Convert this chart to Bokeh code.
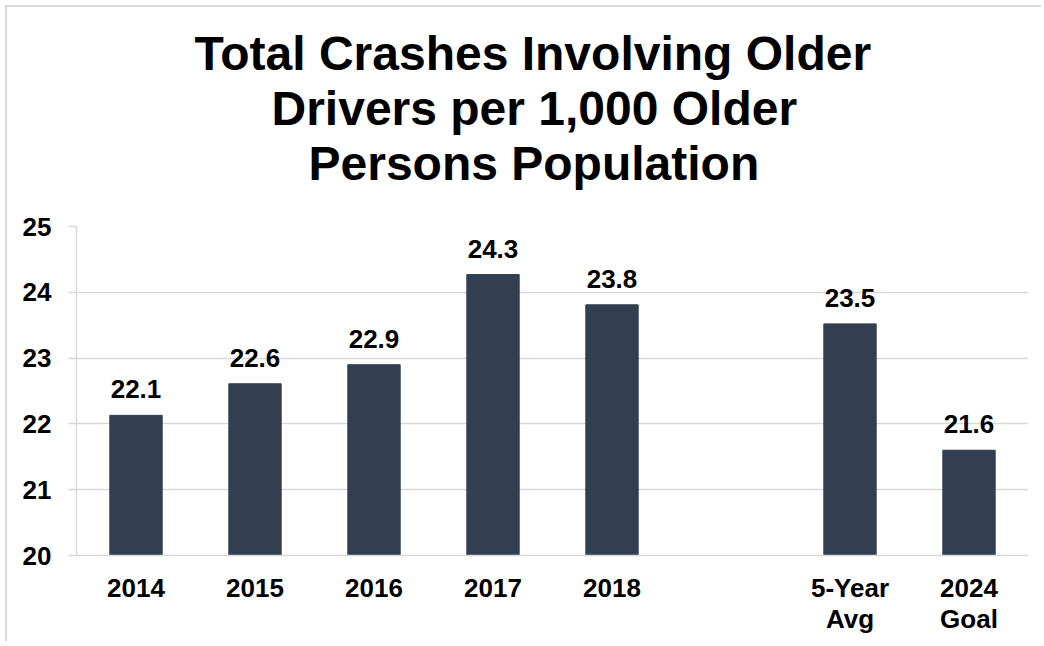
from bokeh.plotting import figure
from bokeh.models import FactorRange, Range1d, FixedTicker, ColumnDataSource, LabelSet, Title
from bokeh.core.properties import value
from bokeh.embed import file_html
from bokeh.resources import INLINE

categories = ["2014", "2015", "2016", "2017", "2018", " ", "5-Year\nAvg", "2024\nGoal"]
bar_categories = ["2014", "2015", "2016", "2017", "2018", "5-Year\nAvg", "2024\nGoal"]
values = [22.13, 22.61, 22.9, 24.27, 23.81, 23.52, 21.6]
value_labels = ["22.1", "22.6", "22.9", "24.3", "23.8", "23.5", "21.6"]
y_ticks = [20, 21, 22, 23, 24, 25]
title_lines = ["Total Crashes Involving Older", "Drivers per 1,000 Older", "Persons Population"]

FONT = "Liberation Sans"
GRID = "#D9D9D9"
BAR = "#333F50"

p = figure(
    width=1036, height=636,
    x_range=FactorRange(*categories, range_padding=0),
    y_range=Range1d(20, 25),
    output_backend="svg", toolbar_location=None,
    min_border_left=69, min_border_right=15, min_border_top=219, min_border_bottom=88,
)
p.title = None
p.styles = {"margin-top": "5px", "margin-left": "5px",
            "border-top": "2px solid #D9D9D9", "border-left": "2px solid #D9D9D9"}
p.outline_line_color = None
p.background_fill_color = "white"
p.border_fill_color = "white"

# spacer between the title block and the plot frame (nearest panel first)
p.add_layout(Title(text=" ", text_font=FONT, text_font_size="31px", standoff=0), "above")

# title lines: left-aligned with offsets so each line is centred on the chart
title_offsets = [118, 195, 232]
for line, off in reversed(list(zip(title_lines, title_offsets))):
    p.add_layout(Title(text=line, align="left", offset=off, standoff=0,
                       text_font=FONT, text_font_size="48px",
                       text_font_style="bold", text_color="#000000"), "above")

src = ColumnDataSource(dict(cat=bar_categories, val=values, lab=value_labels))
p.vbar(x="cat", top="val", bottom=20, width=0.44, source=src, fill_color=BAR, line_color=BAR)

labels = LabelSet(x="cat", y="val", text="lab", source=src, text_align="center",
                  text_baseline="alphabetic", y_offset=17, text_font=value(FONT),
                  text_font_size="26px", text_font_style="bold", text_color="#000000")
p.add_layout(labels)

p.xgrid.grid_line_color = None
p.ygrid.grid_line_color = GRID
p.ygrid.grid_line_width = 1.5
p.ygrid.ticker = FixedTicker(ticks=y_ticks)

p.yaxis.ticker = FixedTicker(ticks=y_ticks)
p.yaxis.axis_line_color = GRID
p.yaxis.axis_line_width = 1.5
p.yaxis.major_tick_line_color = GRID
p.yaxis.major_tick_line_width = 1.5
p.yaxis.major_tick_out = 8
p.yaxis.major_tick_in = 0
p.yaxis.minor_tick_line_color = None
p.yaxis.major_label_standoff = 17
p.yaxis.major_label_text_font = FONT
p.yaxis.major_label_text_font_size = "26px"
p.yaxis.major_label_text_font_style = "bold"
p.yaxis.major_label_text_color = "#000000"

p.xaxis.axis_line_color = GRID
p.xaxis.axis_line_width = 1.5
p.xaxis.major_tick_line_color = None
p.xaxis.minor_tick_line_color = None
p.xaxis.major_label_standoff = 11
p.xaxis.major_label_text_font = FONT
p.xaxis.major_label_text_font_size = "26px"
p.xaxis.major_label_text_font_style = "bold"
p.xaxis.major_label_text_color = "#000000"
p.xaxis.major_label_text_line_height = 1.05
p.xaxis.major_label_orientation = "horizontal"

open("out.html", "w").write(file_html(p, INLINE))
